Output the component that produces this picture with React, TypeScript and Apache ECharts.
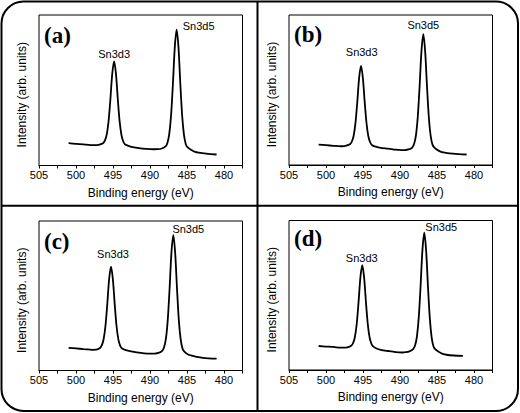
import React, { useEffect, useRef } from 'react';
import * as echarts from 'echarts';

// ---------- DATA ----------
const peakNames = ['Sn3d3', 'Sn3d5'];
const panelLetters = ['(a)', '(b)', '(c)', '(d)'];
const xTickValues = [505, 500, 495, 490, 485, 480];

const energyA = [501, 500, 499, 498, 497.35, 496.85, 496.35, 496.1, 495.85, 495.6, 495.35, 495.1, 494.85, 494.6, 494.35, 494.1, 493.85, 493.6, 493.35, 492.85, 492.35, 491.5, 490.5, 489.5, 489.0, 488.4, 487.9, 487.65, 487.4, 487.15, 486.9, 486.65, 486.4, 486.15, 485.9, 485.65, 485.4, 485.15, 484.9, 484.4, 483.9, 483.4, 482.4, 481.0];
const intensityA = [14.8, 14.4, 14.0, 13.6, 13.5, 13.9, 14.8, 16.5, 20.5, 29.4, 44.2, 61.0, 69.2, 60.9, 44.0, 29.1, 20.0, 15.8, 14.0, 12.9, 12.25, 11.55, 11.05, 10.8, 10.85, 11.3, 12.65, 15.0, 20.85, 33.5, 54.6, 78.6, 90.3, 78.4, 54.15, 32.8, 20.0, 14.0, 12.0, 10.3, 9.0, 8.5, 7.9, 7.3];
const peakEnergyA = [494.85, 486.4];
const peakIntensityA = [69.2, 90.3];

const energyB = [501, 500, 499, 498, 497.77, 497.27, 496.77, 496.52, 496.27, 496.02, 495.77, 495.52, 495.27, 495.02, 494.77, 494.52, 494.27, 494.02, 493.77, 493.27, 492.77, 491.8, 490.8, 489.85, 489.35, 488.85, 488.35, 488.1, 487.85, 487.6, 487.35, 487.1, 486.85, 486.6, 486.35, 486.1, 485.85, 485.6, 485.35, 484.85, 484.35, 483.85, 482.85, 481.0];
const intensityB = [13.6, 13.2, 12.8, 12.5, 12.5, 12.9, 13.85, 15.5, 19.35, 27.9, 42.05, 58.2, 66.1, 58.15, 41.9, 27.65, 19.0, 15.0, 13.2, 12.2, 11.65, 10.95, 10.3, 9.9, 9.95, 10.35, 11.65, 13.95, 19.6, 32.0, 52.5, 75.8, 87.2, 75.7, 52.3, 31.7, 19.2, 13.4, 11.6, 9.75, 8.6, 8.15, 7.6, 7.0];
const peakEnergyB = [495.27, 486.85];
const peakIntensityB = [66.1, 87.2];

const energyC = [501, 500, 499, 498, 497.77, 497.27, 496.77, 496.52, 496.27, 496.02, 495.77, 495.52, 495.27, 495.02, 494.77, 494.52, 494.27, 494.02, 493.77, 493.27, 492.77, 491.8, 490.8, 489.85, 489.35, 488.85, 488.35, 488.1, 487.85, 487.6, 487.35, 487.1, 486.85, 486.6, 486.35, 486.1, 485.85, 485.6, 485.35, 484.85, 484.35, 483.85, 482.85, 481.0];
const intensityC = [15.2, 14.8, 14.3, 13.9, 13.8, 13.9, 15.0, 16.75, 20.9, 29.75, 44.5, 61.2, 69.4, 61.15, 44.4, 29.6, 20.7, 16.5, 14.7, 13.6, 13.05, 12.15, 11.5, 11.25, 11.35, 11.8, 13.15, 15.5, 21.25, 33.9, 55.05, 79.0, 90.6, 78.8, 54.7, 33.4, 20.6, 14.6, 12.6, 10.7, 9.9, 9.3, 8.5, 7.9];
const peakEnergyC = [495.27, 486.85];
const peakIntensityC = [69.4, 90.6];

const energyD = [501, 500, 499, 498, 497.6, 497.1, 496.6, 496.35, 496.1, 495.85, 495.6, 495.35, 495.1, 494.85, 494.6, 494.35, 494.1, 493.85, 493.6, 493.1, 492.6, 491.6, 490.6, 489.72, 489.22, 488.72, 488.22, 487.97, 487.72, 487.47, 487.22, 486.97, 486.72, 486.47, 486.22, 485.97, 485.72, 485.47, 485.22, 484.72, 484.22, 483.72, 482.72, 481.5];
const intensityD = [16.05, 15.7, 15.4, 14.9, 14.9, 15.15, 16.2, 17.9, 21.9, 30.75, 45.4, 62.05, 70.2, 61.95, 45.2, 30.5, 21.55, 17.4, 15.6, 14.2, 13.5, 12.7, 12.0, 11.7, 11.9, 12.5, 14.0, 16.35, 22.2, 34.85, 56.0, 80.05, 91.8, 79.9, 55.75, 34.5, 21.7, 15.75, 13.75, 12.0, 10.85, 10.2, 9.7, 9.4];
const peakEnergyD = [495.1, 486.72];
const peakIntensityD = [70.2, 91.8];

const panelEnergies = [energyA, energyB, energyC, energyD];
const panelIntensities = [intensityA, intensityB, intensityC, intensityD];
const panelPeakEnergies = [peakEnergyA, peakEnergyB, peakEnergyC, peakEnergyD];
const panelPeakIntensities = [peakIntensityA, peakIntensityB, peakIntensityC, peakIntensityD];

// ---------- LAYOUT / STYLE ----------
const FONT = '"Liberation Sans", Arial, sans-serif';
const SERIF = '"Liberation Serif", "Times New Roman", serif';
const gridLayout = [
  { left: 39, top: 15, width: 203.5, height: 150.5 },
  { left: 289, top: 15, width: 203.5, height: 150 },
  { left: 39, top: 221, width: 203.5, height: 149.5 },
  { left: 289, top: 220.5, width: 203.5, height: 149.5 },
];
const letterPos = [
  [44, 35],
  [294, 34],
  [44, 241],
  [294, 238],
];
const labelOffsets = [
  [[0, -7], [22, -3.5]],
  [[0.7, -14], [0, -9]],
  [[2, -13], [15, -6]],
  [[-0.5, -7], [17, -6]],
];

function buildOption() {
  const grid = gridLayout.map((g) => ({
    ...g,
    show: true,
    borderColor: '#000',
    borderWidth: 1,
    containLabel: false,
  }));
  const xAxis = gridLayout.map((_, i) => ({
    gridIndex: i,
    type: 'value',
    inverse: true,
    min: 477.5,
    max: 505,
    interval: 2.5,
    axisLine: { show: true, onZero: false, lineStyle: { color: '#000', width: 1 } },
    axisTick: { show: true, inside: false, length: 3, lineStyle: { color: '#000', width: 1 } },
    axisLabel: {
      show: true,
      margin: 4,
      fontSize: 11,
      color: '#000',
      fontFamily: FONT,
      formatter: (v: number) => (xTickValues.indexOf(v) >= 0 ? String(v) : ''),
    },
    splitLine: { show: false },
    name: 'Binding energy (eV)',
    nameLocation: 'middle',
    nameGap: 21,
    nameTextStyle: { fontSize: 12, color: '#000', fontFamily: FONT },
  }));
  const yAxis = gridLayout.map((_, i) => ({
    gridIndex: i,
    type: 'value',
    min: 0,
    max: 100,
    axisLine: { show: false },
    axisTick: { show: false },
    axisLabel: { show: false },
    splitLine: { show: false },
    name: 'Intensity (arb. units)',
    nameLocation: 'middle',
    nameGap: 11,
    nameRotate: 90,
    nameTextStyle: { fontSize: 12, color: '#000', fontFamily: FONT, padding: [0, 9, 0, 0] },
  }));
  const series = panelEnergies.map((energy, i) => ({
    type: 'line',
    xAxisIndex: i,
    yAxisIndex: i,
    data: energy.map((e, k) => [e, panelIntensities[i][k]]),
    showSymbol: false,
    symbol: 'none',
    smooth: 0.3,
    silent: true,
    lineStyle: { color: '#000', width: 1.8 },
    markPoint: {
      symbol: 'circle',
      symbolSize: 1,
      silent: true,
      itemStyle: { color: 'rgba(0,0,0,0)' },
      label: { show: true, position: 'inside', color: '#000', fontSize: 11, fontFamily: FONT },
      data: peakNames.map((n, k) => ({
        name: n,
        coord: [panelPeakEnergies[i][k], panelPeakIntensities[i][k]],
        label: { formatter: n, offset: labelOffsets[i][k] },
      })),
    },
  }));
  const graphic = [
    {
      type: 'rect',
      shape: { x: 1.5, y: 1.5, width: 516.5, height: 409.5, r: 22 },
      style: { fill: 'none', stroke: '#000', lineWidth: 2 },
      silent: true,
    },
    {
      type: 'line',
      shape: { x1: 257.5, y1: 1.5, x2: 257.5, y2: 411 },
      style: { stroke: '#000', lineWidth: 2 },
      silent: true,
    },
    {
      type: 'line',
      shape: { x1: 1.5, y1: 205.7, x2: 518, y2: 205.7 },
      style: { stroke: '#000', lineWidth: 2 },
      silent: true,
    },
    ...panelLetters.map((t, i) => ({
      type: 'text',
      x: letterPos[i][0],
      y: letterPos[i][1],
      silent: true,
      style: {
        text: t,
        fontSize: 23,
        fontWeight: 'bold',
        fontFamily: SERIF,
        fill: '#000',
        verticalAlign: 'middle',
        align: 'left',
      },
    })),
  ];
  return {
    animation: false,
    backgroundColor: '#fff',
    grid,
    xAxis,
    yAxis,
    series,
    graphic,
  };
}

export default function App() {
  const ref = useRef<HTMLDivElement>(null);
  useEffect(() => {
    const chart = echarts.init(ref.current as HTMLDivElement, null, { renderer: 'svg' });
    chart.setOption(buildOption() as any);
    return () => chart.dispose();
  }, []);
  return (
    <div
      ref={ref}
      style={{ position: 'absolute', left: 0, top: 0, width: 520, height: 413, background: '#fff' }}
    />
  );
}
